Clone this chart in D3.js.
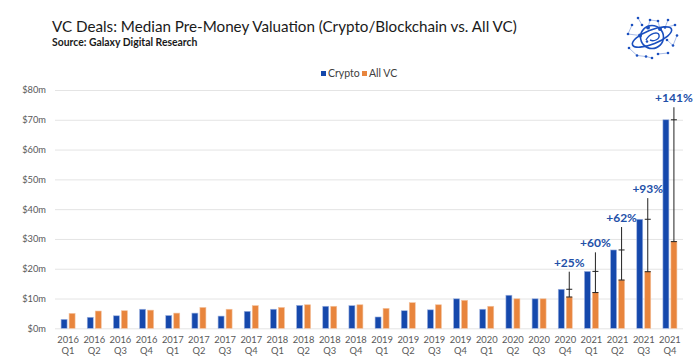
<!DOCTYPE html>
<html>
<head>
<meta charset="utf-8">
<script src="https://cdn.jsdelivr.net/npm/d3@7"></script>
<style>
	body { margin: 0; background: #fff; }
	svg { display: block; font-family: Lato, sans-serif; }
</style>
</head>
<body>
<svg id="chart" width="700" height="363"></svg>
<script>

// data ($m)

var quarters = [
	"2016 Q1", "2016 Q2", "2016 Q3", "2016 Q4",
	"2017 Q1", "2017 Q2", "2017 Q3", "2017 Q4",
	"2018 Q1", "2018 Q2", "2018 Q3", "2018 Q4",
	"2019 Q1", "2019 Q2", "2019 Q3", "2019 Q4",
	"2020 Q1", "2020 Q2", "2020 Q3", "2020 Q4",
	"2021 Q1", "2021 Q2", "2021 Q3", "2021 Q4"
];

var cryptoValues = [3.0, 3.7, 4.2, 6.4, 4.3, 5.1, 4.1, 5.7, 6.4, 7.7, 7.4, 7.6,
	3.8, 5.9, 6.2, 9.9, 6.4, 11.1, 9.9, 13.1, 19.1, 26.3, 36.6, 70.0];

var allVCValues = [5.0, 5.8, 5.9, 6.1, 5.1, 7.0, 6.4, 7.6, 7.0, 7.9, 7.4, 7.9,
	6.7, 8.6, 7.9, 9.4, 7.4, 9.9, 9.9, 10.5, 12.0, 16.2, 19.0, 29.1];

// premium annotations
var premiumQuarters = ["2020 Q4", "2021 Q1", "2021 Q2", "2021 Q3", "2021 Q4"];
var premiumLabels = ["+25%", "+60%", "+62%", "+93%", "+141%"];
var premiumTops = [19.0, 25.5, 34.0, 43.7, 74.2];

var yTicks = [0, 10, 20, 30, 40, 50, 60, 70, 80];

var blue = "#1548ac";
var orange = "#e8853d";
var grey = "#595959";

var svg = d3.select("#chart");

var x = d3.scaleBand().domain(quarters).range([55, 683]);
var y = d3.scaleLinear().domain([0, 80]).range([328.3, 90]);

// title

svg.append("text")
.attr("x", 52).attr("y", 31.5)
.style("font-size", "15.2px")
.attr("fill", "#1a1a1a")
.text("VC Deals: Median Pre-Money Valuation (Crypto/Blockchain vs. All VC)");

svg.append("text")
.attr("x", 52).attr("y", 45.5)
.style("font-size", "10.4px")
.style("font-weight", "bold")
.attr("fill", "#1a1a1a")
.text("Source: Galaxy Digital Research");

// grid + y axis

var yAxis = d3.axisLeft(y)
.tickValues(yTicks)
.tickSize(-(683 - 55))
.tickPadding(9)
.tickFormat(function (d) { return "$" + d + "m"; });

var gy = svg.append("g")
.attr("transform", "translate(55,0)")
.call(yAxis);

gy.select(".domain").remove();
gy.selectAll(".tick line").attr("stroke", "#e4e4e4").attr("stroke-width", 1);
gy.selectAll(".tick text")
.attr("fill", grey)
.style("font-family", "Lato")
.style("font-size", "9.3px");

// x labels

var xAxis = d3.axisBottom(x).tickSize(0).tickPadding(0);

var gx = svg.append("g")
.attr("transform", "translate(0,328.3)")
.call(xAxis);

gx.select(".domain").remove();
gx.selectAll(".tick text").remove();

gx.selectAll(".tick").each(function (d) {
	var parts = d.split(" ");
	var t = d3.select(this).append("text")
	.attr("fill", grey)
	.style("font-family", "Lato")
	.style("font-size", "9.4px")
	.style("text-anchor", "middle");
	t.append("tspan").attr("x", 0).attr("y", 15).text(parts[0]);
	t.append("tspan").attr("x", 0).attr("y", 26).text(parts[1]);
});

// bars

var barW = 6;

svg.append("g").selectAll("rect")
.data(cryptoValues)
.enter().append("rect")
.attr("x", function (d, i) { return x(quarters[i]) + x.bandwidth() / 2 - 7; })
.attr("y", function (d) { return y(d); })
.attr("width", barW)
.attr("height", function (d) { return y(0) - y(d); })
.attr("fill", blue)
.attr("stroke", "#9fb3e0")
.attr("stroke-width", 0.6);

svg.append("g").selectAll("rect")
.data(allVCValues)
.enter().append("rect")
.attr("x", function (d, i) { return x(quarters[i]) + x.bandwidth() / 2 + 1; })
.attr("y", function (d) { return y(d); })
.attr("width", barW)
.attr("height", function (d) { return y(0) - y(d); })
.attr("fill", orange)
.attr("stroke", "#f3c29e")
.attr("stroke-width", 0.6);

// premium markers

var ann = svg.append("g").selectAll("g")
.data(premiumQuarters)
.enter().append("g")
.attr("transform", function (q) {
	return "translate(" + (x(q) + x.bandwidth() / 2 + 4) + ",0)";
});

ann.append("line")
.attr("x1", 0).attr("x2", 0)
.attr("y1", function (q, i) { return y(premiumTops[i]); })
.attr("y2", function (q) { return y(allVCValues[quarters.indexOf(q)]); })
.attr("stroke", "#222")
.attr("stroke-width", 1);

ann.append("line")
.attr("x1", -3).attr("x2", 3)
.attr("y1", function (q) { return y(cryptoValues[quarters.indexOf(q)]); })
.attr("y2", function (q) { return y(cryptoValues[quarters.indexOf(q)]); })
.attr("stroke", "#222");

ann.append("line")
.attr("x1", -3).attr("x2", 3)
.attr("y1", function (q) { return y(allVCValues[quarters.indexOf(q)]); })
.attr("y2", function (q) { return y(allVCValues[quarters.indexOf(q)]); })
.attr("stroke", "#222");

ann.append("text")
.attr("x", 0)
.attr("y", function (q, i) { return y(premiumTops[i]) - 5; })
.attr("fill", "#2350a8")
.style("font-size", "12px")
.style("font-weight", "bold")
.style("text-anchor", "middle")
.text(function (q, i) { return premiumLabels[i]; });

// legend

var legend = svg.append("g").attr("transform", "translate(321,73.5)");
var legendItems = [["Crypto", blue, 0], ["All VC", orange, 41]];

legendItems.forEach(function (it) {
	legend.append("rect")
	.attr("x", it[2]).attr("y", -2.5)
	.attr("width", 5).attr("height", 5)
	.attr("fill", it[1]);
	legend.append("text")
	.attr("x", it[2] + 7).attr("y", 3.8)
	.attr("fill", "#404040")
	.style("font-size", "10.5px")
	.text(it[0]);
});

// logo (galaxy planet with network nodes)

var logo = svg.append("g").attr("transform", "translate(652,37)");

var nodes = [[-14, -19], [-2, -17], [6, -16], [16, -17], [-10, -12], [-4, -9.5, 2], [8, -8, 2],
	[13, -9.5], [23, -12], [-20, -12], [-24, -3], [-12, -1.5, 2], [25, -1.5], [-5, 4.5],
	[15, 3], [21, 8.5], [-23, 11], [-15, 18.5], [-6, 19.5], [6, 17], [16, 16], [0, 21]];

var links = [[0, 4], [1, 5], [2, 6], [3, 7], [7, 8], [9, 10], [10, 11], [14, 15], [16, 17], [17, 18], [19, 20], [18, 21], [1, 2], [12, 15]];

logo.selectAll("line.link")
.data(links)
.enter().append("line")
.attr("x1", function (l) { return nodes[l[0]][0]; })
.attr("y1", function (l) { return nodes[l[0]][1]; })
.attr("x2", function (l) { return nodes[l[1]][0]; })
.attr("y2", function (l) { return nodes[l[1]][1]; })
.attr("stroke", "#6f8fd6")
.attr("stroke-width", 0.6);

logo.append("circle")
.attr("r", 11.5)
.attr("fill", "none")
.attr("stroke", "#1a4fbf")
.attr("stroke-width", 1.6);

logo.append("ellipse")
.attr("rx", 21).attr("ry", 7)
.attr("transform", "rotate(-22)")
.attr("fill", "none")
.attr("stroke", "#1a4fbf")
.attr("stroke-width", 1.6);

logo.append("path")
.attr("d", "M-6,3 C-2,-4 6,-6 7,-2 C8,2 2,5 -2,3")
.attr("fill", "none")
.attr("stroke", "#1a4fbf")
.attr("stroke-width", 1.4);

logo.selectAll("circle.node")
.data(nodes)
.enter().append("circle")
.attr("cx", function (n) { return n[0]; })
.attr("cy", function (n) { return n[1]; })
.attr("r", function (n) { return n[2] || 1.3; })
.attr("fill", "#1a4fbf");

</script>
</body>
</html>
